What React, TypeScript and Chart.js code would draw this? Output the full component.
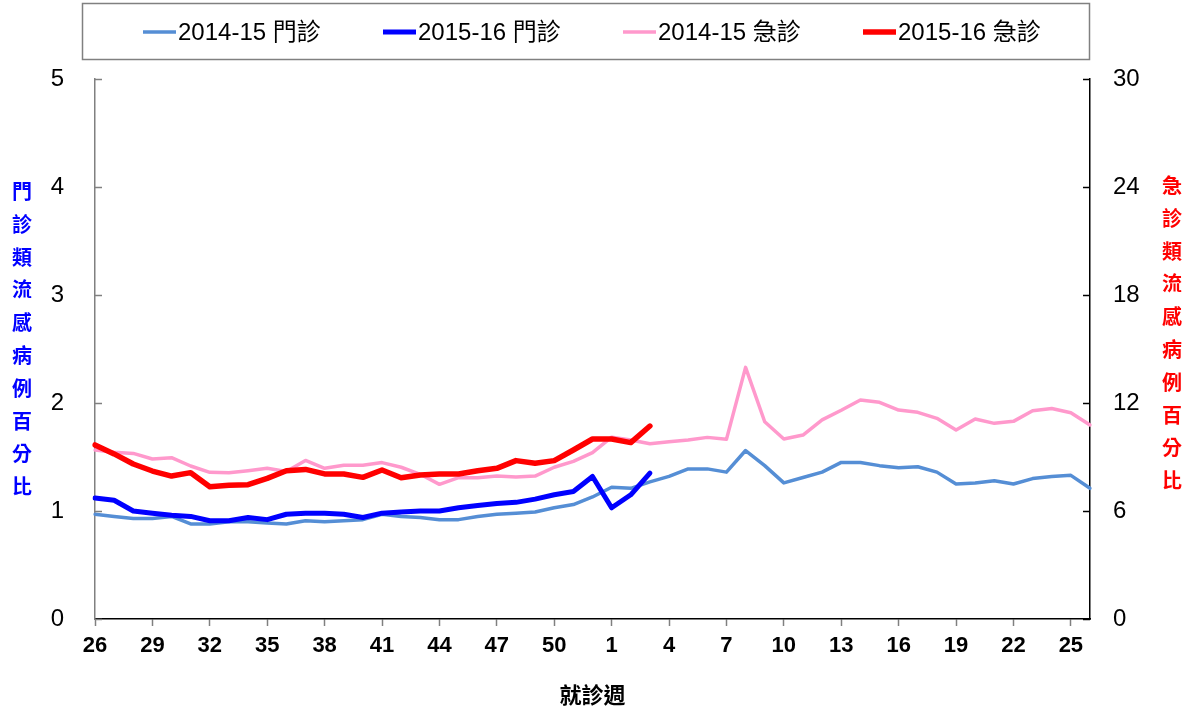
import React, { useEffect, useRef } from 'react';
import { Chart, registerables } from 'chart.js';

Chart.register(...registerables);

// ---- data ----
const weeks: string[] = [
  '26', '27', '28', '29', '30', '31', '32', '33', '34', '35', '36', '37', '38', '39', '40', '41', '42', '43', '44',
  '45', '46', '47', '48', '49', '50', '51', '52',
  '1', '2', '3', '4', '5', '6', '7', '8', '9', '10', '11', '12', '13', '14', '15', '16', '17', '18', '19', '20',
  '21', '22', '23', '24', '25', '26',
];

const opd1415: number[] = [
  0.97, 0.95, 0.93, 0.93, 0.95, 0.88, 0.88, 0.90, 0.90, 0.89, 0.88, 0.91, 0.90, 0.91, 0.92, 0.97, 0.95, 0.94,
  0.92, 0.92, 0.95, 0.97, 0.98, 0.99, 1.03, 1.06, 1.13,
  1.22, 1.21, 1.27, 1.32, 1.39, 1.39, 1.36, 1.56, 1.42, 1.26, 1.31, 1.36, 1.45, 1.45, 1.42, 1.40, 1.41, 1.36,
  1.25, 1.26, 1.28, 1.25, 1.30, 1.32, 1.33, 1.21,
];

const opd1516: (number | null)[] = [
  1.12, 1.10, 1.00, 0.98, 0.96, 0.95, 0.91, 0.91, 0.94, 0.92, 0.97, 0.98, 0.98, 0.97, 0.94, 0.98, 0.99, 1.00,
  1.00, 1.03, 1.05, 1.07, 1.08, 1.11, 1.15, 1.18, 1.32,
  1.03, 1.15, 1.35,
];

const er1415: number[] = [
  9.39, 9.26, 9.20, 8.89, 8.96, 8.50, 8.15, 8.13, 8.24, 8.37, 8.19, 8.81, 8.37, 8.54, 8.54, 8.69, 8.43, 8.04,
  7.48, 7.85, 7.85, 7.94, 7.89, 7.94, 8.43, 8.76, 9.24,
  10.10, 9.94, 9.74, 9.85, 9.94, 10.09, 9.98, 13.98, 10.96, 10.00, 10.22, 11.06, 11.60, 12.17, 12.04, 11.61,
  11.48, 11.15, 10.50, 11.11, 10.87, 10.98, 11.57, 11.69, 11.46, 10.78,
];

const er1516: (number | null)[] = [
  9.67, 9.17, 8.61, 8.22, 7.94, 8.13, 7.35, 7.43, 7.46, 7.81, 8.24, 8.31, 8.06, 8.06, 7.87, 8.28, 7.85, 8.00,
  8.06, 8.06, 8.24, 8.37, 8.80, 8.65, 8.80, 9.39, 10.00,
  10.00, 9.80, 10.72,
];

const seriesLabels: string[] = ['2014-15 門診', '2015-16 門診', '2014-15 急診', '2015-16 急診'];
const seriesColors: string[] = ['#558ED5', '#0000FF', '#FF99CC', '#FF0000'];
const seriesWidths: number[] = [3.5, 5, 3.5, 5.5];

const leftTitle = '門診類流感病例百分比';
const rightTitle = '急診類流感病例百分比';
const xTitle = '就診週';

const LATIN = "'Liberation Sans', Arial, 'Noto Sans CJK TC', sans-serif";
const CJK = "'Noto Sans CJK TC', 'Noto Sans CJK SC', sans-serif";

function pad(arr: (number | null)[], n: number): (number | null)[] {
  const out = arr.slice();
  while (out.length < n) out.push(null);
  return out;
}

// legend drawn inside a framed box
const legendPlugin = {
  id: 'framedLegend',
  afterDraw(chart: any) {
    const ctx = chart.ctx;
    ctx.save();
    ctx.strokeStyle = '#808080';
    ctx.lineWidth = 1.5;
    ctx.strokeRect(82.5, 3.5, 1007, 56);
    ctx.font = `24px ${LATIN}`;
    ctx.textBaseline = 'middle';
    chart.data.datasets.forEach((ds: any, i: number) => {
      const x = 143 + i * 240;
      const y = 32;
      ctx.strokeStyle = ds.borderColor;
      ctx.lineWidth = ds.borderWidth;
      ctx.beginPath();
      ctx.moveTo(x, y);
      ctx.lineTo(x + 33, y);
      ctx.stroke();
      ctx.fillStyle = '#000';
      ctx.fillText(ds.label, x + 35, y + 1);
    });
    ctx.restore();
  },
};

// stacked vertical axis titles + inward tick marks
const axisDecor = {
  id: 'axisDecor',
  afterDraw(chart: any) {
    const ctx = chart.ctx;
    const area = chart.chartArea;
    ctx.save();
    // inward ticks
    const y = chart.scales.y;
    const y2 = chart.scales.y2;
    ctx.lineWidth = 1.5;
    ctx.strokeStyle = '#808080';
    y.ticks.forEach((t: any) => {
      const py = Math.round(y.getPixelForValue(t.value)) + 0.5;
      ctx.beginPath();
      ctx.moveTo(area.left, py);
      ctx.lineTo(area.left + 7, py);
      ctx.stroke();
    });
    ctx.strokeStyle = '#000';
    y2.ticks.forEach((t: any) => {
      const py = Math.round(y2.getPixelForValue(t.value)) + 0.5;
      ctx.beginPath();
      ctx.moveTo(area.right, py);
      ctx.lineTo(area.right - 7, py);
      ctx.stroke();
    });
    // vertical titles
    ctx.font = `bold 20px ${CJK}`;
    ctx.textAlign = 'center';
    ctx.textBaseline = 'middle';
    const step = 32.8;
    const drawCol = (text: string, cx: number, color: string, centerY: number) => {
      const chars = Array.from(text);
      const start = centerY - ((chars.length - 1) * step) / 2;
      ctx.fillStyle = color;
      chars.forEach((c, i) => ctx.fillText(c, cx, start + i * step));
    };
    drawCol(leftTitle, 22, '#0000FF', 339);
    drawCol(rightTitle, 1172, '#FF0000', 333);
    ctx.restore();
  },
};

export default function App() {
  const ref = useRef<HTMLCanvasElement | null>(null);

  useEffect(() => {
    if (!ref.current) return;
    const n = weeks.length;
    const chart = new Chart(ref.current, {
      type: 'line',
      data: {
        labels: weeks,
        datasets: [
          {
            label: seriesLabels[0], data: opd1415, yAxisID: 'y',
            borderColor: seriesColors[0], backgroundColor: seriesColors[0], borderWidth: seriesWidths[0], order: 4,
          },
          {
            label: seriesLabels[1], data: pad(opd1516, n), yAxisID: 'y',
            borderColor: seriesColors[1], backgroundColor: seriesColors[1], borderWidth: seriesWidths[1], order: 1,
          },
          {
            label: seriesLabels[2], data: er1415, yAxisID: 'y2',
            borderColor: seriesColors[2], backgroundColor: seriesColors[2], borderWidth: seriesWidths[2], order: 3,
          },
          {
            label: seriesLabels[3], data: pad(er1516, n), yAxisID: 'y2',
            borderColor: seriesColors[3], backgroundColor: seriesColors[3], borderWidth: seriesWidths[3], order: 2,
          },
        ],
      },
      options: {
        responsive: false,
        animation: false,
        devicePixelRatio: 1,
        layout: { padding: { top: 79, left: 0, right: 0, bottom: 0 } },
        elements: {
          point: { radius: 0, hoverRadius: 0 },
          line: { tension: 0, borderJoinStyle: 'round', borderCapStyle: 'round' },
        },
        plugins: {
          legend: { display: false },
          tooltip: { enabled: false },
          title: { display: false },
        },
        scales: {
          x: {
            type: 'category',
            offset: false,
            grid: {
              display: true,
              drawOnChartArea: false,
              drawTicks: true,
              tickLength: 7,
              tickWidth: 1.5,
              tickColor: (c: any) => (c.index % 3 === 0 ? '#808080' : 'rgba(0,0,0,0)'),
            },
            border: { display: true, color: '#000', width: 1.5 },
            ticks: {
              autoSkip: false,
              maxRotation: 0,
              minRotation: 0,
              padding: 7,
              color: '#000',
              font: { family: LATIN, size: 22, weight: 'bold' },
              callback: (_v: any, i: number) => (i % 3 === 0 ? weeks[i] : ''),
            },
            title: {
              display: true,
              text: xTitle,
              color: '#000',
              font: { family: CJK, size: 22, weight: 'bold' },
              padding: { top: 0, bottom: 3 },
            },
            afterFit: (s: any) => { s.height = 92; },
          },
          y: {
            position: 'left',
            min: 0,
            max: 5,
            grid: { display: false, drawTicks: false },
            border: { display: true, color: '#808080', width: 1.5 },
            ticks: { stepSize: 1, padding: 31, color: '#000', font: { family: LATIN, size: 24 } },
            afterFit: (s: any) => { s.width = 95; },
          },
          y2: {
            position: 'right',
            min: 0,
            max: 30,
            grid: { display: false, drawTicks: false },
            border: { display: true, color: '#000', width: 1.5 },
            ticks: { stepSize: 6, padding: 23, color: '#000', font: { family: LATIN, size: 24 } },
            afterFit: (s: any) => { s.width = 102; },
          },
        },
      } as any,
      plugins: [legendPlugin, axisDecor],
    });
    return () => chart.destroy();
  }, []);

  return (
    <div style={{ position: 'absolute', left: 0, top: 0, width: 1192, height: 711, background: '#fff' }}>
      <canvas ref={ref} width={1192} height={711} />
    </div>
  );
}
